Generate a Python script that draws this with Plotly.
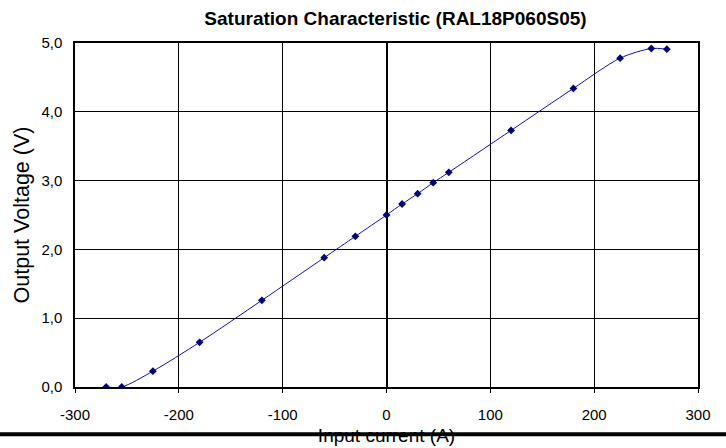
import plotly.graph_objects as go

# Data
input_current = [-270, -255, -225, -180, -120, -60, -30, 0, 15, 30, 45, 60, 120, 180, 225, 255, 270]
output_voltage = [0.0, 0.0, 0.23, 0.65, 1.26, 1.88, 2.19, 2.50, 2.66, 2.81, 2.97, 3.12, 3.73, 4.34, 4.78, 4.92, 4.91]

x_ticks = [-300, -200, -100, 0, 100, 200, 300]
y_ticks = [0, 1, 2, 3, 4, 5]

FONT = "Liberation Sans, Arial, sans-serif"

fig = go.Figure()
fig.add_trace(go.Scatter(
    x=input_current, y=output_voltage,
    mode="lines+markers",
    line=dict(color="#1010B0", width=1, shape="spline", smoothing=0.8),
    marker=dict(symbol="diamond", size=6, color="#000080"),
    showlegend=False,
))

fig.update_layout(
    width=726, height=448,
    margin=dict(l=74.5, r=28, t=42.5, b=61.3),
    paper_bgcolor="white", plot_bgcolor="white",
    separators=", ",
    font=dict(family=FONT, size=15, color="black"),
    title=dict(text="<b>Saturation Characteristic (RAL18P060S05)</b>",
               x=395.5/726, xanchor="center", xref="container",
               y=1-18/448, yanchor="middle", yref="container",
               font=dict(family=FONT, size=19, color="black")),
    xaxis=dict(range=[-300, 300], tickvals=x_ticks, ticktext=[str(v) for v in x_ticks],
               automargin=False,
               showgrid=True, gridcolor="black", gridwidth=1,
               zeroline=True, zerolinecolor="black", zerolinewidth=1.5,
               showline=True, linecolor="black", linewidth=1.5, mirror=True,
               ticks="outside", ticklen=4, tickcolor="black",
               ticklabelstandoff=9,
               tickfont=dict(size=15),
               title=dict(text="Input current (A)", font=dict(size=19), standoff=7)),
    yaxis=dict(range=[0, 5], tickvals=y_ticks, tickformat=".1f",
               automargin=False,
               showgrid=True, gridcolor="black", gridwidth=1,
               zeroline=False,
               showline=True, linecolor="black", linewidth=1.5, mirror=True,
               ticks="", tickfont=dict(size=15),
               ticklabelstandoff=8,
               title=dict(text="Output Voltage (V)", font=dict(size=21.5), standoff=6)),
    yaxis2=dict(matches="y", overlaying="y", anchor="free", position=0.5,
                side="left", ticks="outside", ticklen=4, tickcolor="black",
                tickvals=y_ticks, showticklabels=False, showgrid=False,
                showline=False, zeroline=False, automargin=False),
    shapes=[dict(type="line", xref="paper", yref="paper",
                 x0=-0.2, x1=1.2, y0=(386.7-434)/344, y1=(386.7-434)/344,
                 line=dict(color="black", width=4), layer="above")],
)

fig.write_html("out.html", config={"displayModeBar": False},
               post_script="document.body.style.margin='0';")
